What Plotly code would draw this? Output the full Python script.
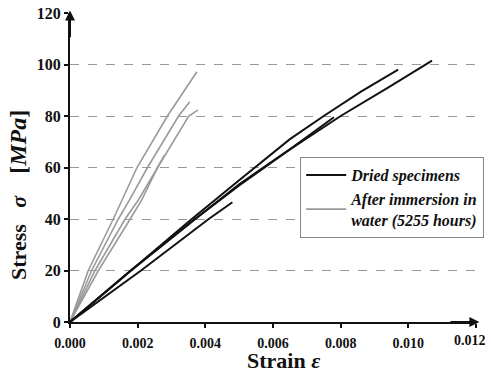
import plotly.graph_objects as go

# Dried specimens (black)
dried_A_x = [0, 0.0018, 0.0037, 0.005, 0.0065, 0.008, 0.0094, 0.0107]
dried_A_y = [0, 20, 40, 53, 67, 80, 91, 101.5]
dried_B_x = [0, 0.0018, 0.0036, 0.0049, 0.0065, 0.0075, 0.0086, 0.0097]
dried_B_y = [0, 20, 40, 54, 71, 80, 89.5, 98]
dried_C_x = [0, 0.0018, 0.0037, 0.005, 0.0066, 0.0078]
dried_C_y = [0, 20, 40, 53.5, 68, 79.5]
dried_D_x = [0, 0.0021, 0.0041, 0.0048]
dried_D_y = [0, 20, 40, 46.5]

# After immersion in water (gray)
wet_A_x = [0, 0.00054, 0.00128, 0.00153, 0.00198, 0.00288, 0.00375]
wet_A_y = [0, 20, 40, 47.4, 60, 80, 97.2]
wet_B_x = [0, 0.00064, 0.00143, 0.00176, 0.00229, 0.00321, 0.00354]
wet_B_y = [0, 20, 40, 47.4, 60, 80, 85.5]
wet_C_x = [0, 0.00084, 0.00178, 0.00212, 0.00259, 0.00351, 0.00378]
wet_C_y = [0, 20, 40, 47.4, 60, 80, 82.3]
wet_D_x = [0, 0.00074, 0.00163, 0.00202, 0.00259, 0.00279]
wet_D_y = [0, 20, 40, 47.4, 60, 64.8]

x_ticks = [0, 0.002, 0.004, 0.006, 0.008, 0.010, 0.012]
x_tick_labels = ["0.000", "0.002", "0.004", "0.006", "0.008", "0.010", "0.012"]
y_ticks = [0, 20, 40, 60, 80, 100, 120]

BLACK = "#111111"
GRAY = "#9a9a9a"
FONT = "Liberation Serif, Times New Roman, serif"
NB = "\u00a0"

fig = go.Figure()
dried = [(dried_A_x, dried_A_y), (dried_B_x, dried_B_y), (dried_C_x, dried_C_y), (dried_D_x, dried_D_y)]
wet = [(wet_A_x, wet_A_y), (wet_B_x, wet_B_y), (wet_C_x, wet_C_y), (wet_D_x, wet_D_y)]

for i, (xs, ys) in enumerate(wet):
    fig.add_trace(go.Scatter(x=xs, y=ys, mode="lines", line=dict(color=GRAY, width=1.6),
                             name="After immersion in<br>water (5255 hours)", legendgroup="wet",
                             showlegend=(i == 0), legendrank=2))
for i, (xs, ys) in enumerate(dried):
    fig.add_trace(go.Scatter(x=xs, y=ys, mode="lines", line=dict(color=BLACK, width=2),
                             name="Dried specimens", legendgroup="dried",
                             showlegend=(i == 0), legendrank=1))

# the last tick label sits at the window edge; draw it as a right-anchored annotation
axis_labels = x_tick_labels[:-1] + [""]

# page body has an 8px margin, so margins are offset to compensate
fig.update_layout(
    width=493, height=373,
    margin=dict(l=62, r=25, t=5, b=59),
    plot_bgcolor="white", paper_bgcolor="white",
    font=dict(family=FONT, color="#111111"),
    legend=dict(x=0.567, y=0.534, xanchor="left", yanchor="top",
                bordercolor="#888888", borderwidth=1, bgcolor="white",
                font=dict(family=FONT, size=16, style="italic", weight="bold"),
                tracegroupgap=0, traceorder="normal", itemwidth=40),
    xaxis=dict(range=[0, 0.012], tickvals=x_ticks, ticktext=axis_labels, automargin=False,
               ticklabeloverflow="allow", ticklabelstandoff=3,
               showgrid=False, zeroline=False, showline=True, linecolor="#111111", linewidth=2,
               ticks="outside", ticklen=4, tickwidth=2, tickcolor="#111111",
               tickfont=dict(family=FONT, size=14, weight="bold")),
    yaxis=dict(range=[0, 120], tickvals=y_ticks, automargin=False, ticklabeloverflow="allow",
               showgrid=True, gridcolor="#999999", griddash="dash", gridwidth=1,
               zeroline=False, showline=True, linecolor="#111111", linewidth=2,
               ticks="outside", ticklen=4, tickwidth=2, tickcolor="#111111",
               tickfont=dict(family=FONT, size=16, weight="bold")),
)

fig.add_annotation(x=x_ticks[-1], y=0, xref="x", yref="y", showarrow=False,
                   text="<b>" + x_tick_labels[-1] + "</b>", font=dict(family=FONT, size=14, color="#111111"),
                   xanchor="right", yanchor="top", xshift=12, yshift=-9)

# axis arrows
fig.add_annotation(x=0, y=121, xref="x", yref="y", ax=0, ay=110, axref="x", ayref="y",
                   showarrow=True, arrowhead=2, arrowsize=1, arrowwidth=2, arrowcolor="#111111", text="")
fig.add_annotation(x=0.0121, y=0, xref="x", yref="y", ax=0.0112, ay=0, axref="x", ayref="y",
                   showarrow=True, arrowhead=2, arrowsize=1, arrowwidth=2, arrowcolor="#111111", text="")

# axis titles
fig.add_annotation(x=-0.128, y=0.411, xref="paper", yref="paper", showarrow=False, textangle=-90,
                   text="<b>Stress" + NB * 3 + "<i>σ</i>" + NB * 4 + "<span style='font-size:24px'>[<i>MPa</i>]</span></b>",
                   font=dict(family=FONT, size=22, color="#111111"),
                   xanchor="center", yanchor="middle")
fig.add_annotation(x=0.525, y=-0.125, xref="paper", yref="paper", showarrow=False,
                   text="<b>Strain <i>ε</i></b>", font=dict(family=FONT, size=22, color="#111111"),
                   xanchor="center", yanchor="middle")

fig.write_html("out.html")
